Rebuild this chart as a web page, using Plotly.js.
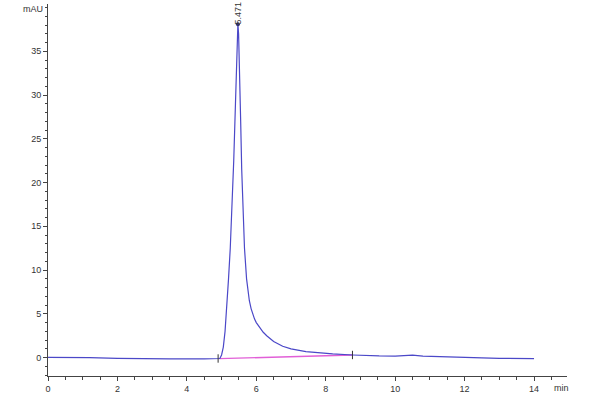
<!DOCTYPE html>
<html>
<head>
<meta charset="utf-8">
<script src="https://cdn.plot.ly/plotly-3.0.1.min.js"></script>
<style>
  html, body { margin: 0; padding: 0; background: #fff; }
  #chart { width: 600px; height: 400px; }
</style>
</head>
<body>
<div id="chart"></div>
<script>
// retention time (min) and detector signal (mAU)
var timeMin = [0, 0.5, 1.2, 2.0, 2.6, 3.5, 4.5, 4.85, 4.9, 4.95, 5.0, 5.05, 5.1, 5.15,
  5.2, 5.25, 5.3, 5.35, 5.4, 5.43, 5.46, 5.47, 5.49, 5.52, 5.55, 5.58, 5.62, 5.66,
  5.72, 5.76, 5.8, 5.85, 5.9, 5.95, 6.0, 6.1, 6.2, 6.3, 6.5, 6.76, 7.0, 7.43, 7.8,
  8.2, 8.77, 9.2, 9.54, 10.0, 10.5, 10.8, 11.3, 11.94, 12.5, 13.0, 13.5, 14.0];
var signalMAU = [0.02, 0.02, 0.0, -0.08, -0.14, -0.15, -0.15, -0.15, -0.1, -0.1, 0.3, 1.2, 3.0, 5.5,
  9.0, 12.5, 17.0, 22.5, 29.0, 33.0, 37.5, 38.1, 37.0, 33.0, 27.0, 21.5, 16.0, 12.5,
  9.0, 7.6, 6.5, 5.6, 4.9, 4.4, 4.0, 3.4, 2.9, 2.5, 1.85, 1.3, 1.0, 0.69, 0.52,
  0.42, 0.3, 0.22, 0.2, 0.18, 0.28, 0.18, 0.1, 0.05, -0.02, -0.08, -0.1, -0.12];

// integration baseline under the peak
var baseTime = [4.93, 8.77];
var baseSignal = [-0.12, 0.3];

// integration start / end markers and apex
var markTime = [4.9, 8.77];
var markSignal = [-0.1, 0.3];
var peakTime = 5.471;
var peakHeight = 38.1;
var peakLabel = '5.471';

var xTicks = [0, 2, 4, 6, 8, 10, 12, 14];
var yTicks = [0, 5, 10, 15, 20, 25, 30, 35];

var axisColor = '#444';
var labelFont = { family: 'Liberation Sans, Arial, sans-serif', size: 9, color: '#333' };

var traces = [
  {
    x: baseTime,
    y: baseSignal,
    mode: 'lines',
    type: 'scatter',
    line: { color: 'rgb(225,95,215)', width: 1.4 },
    hoverinfo: 'skip',
  },
  {
    x: timeMin,
    y: signalMAU,
    mode: 'lines',
    type: 'scatter',
    line: { color: 'rgb(75,72,200)', width: 1.2 },
  },
  {
    x: markTime,
    y: markSignal,
    mode: 'markers',
    type: 'scatter',
    marker: { symbol: 'line-ns-open', size: 6, color: '#333', line: { width: 1, color: '#333' } },
    hoverinfo: 'skip',
  },
  {
    x: [peakTime],
    y: [peakHeight],
    mode: 'markers',
    type: 'scatter',
    marker: { size: 4, color: '#33336a' },
    hoverinfo: 'skip',
  },
];

var axisBase = {
  showline: true,
  linecolor: axisColor,
  linewidth: 1,
  ticks: 'outside',
  ticklen: 4,
  tickwidth: 1,
  tickcolor: axisColor,
  showgrid: false,
  zeroline: false,
  tickfont: labelFont,
  tickmode: 'array',
};

var layout = {
  xaxis: Object.assign({}, axisBase, {
    range: [0, 14.95],
    tickvals: xTicks,
    ticktext: xTicks.map(String),
    minor: { dtick: 0.5, tick0: 0, ticks: 'outside', ticklen: 2.5, tickcolor: axisColor },
  }),
  yaxis: Object.assign({}, axisBase, {
    range: [-2.1, 40.4],
    tickvals: yTicks,
    ticktext: yTicks.map(String),
    minor: { dtick: 1, tick0: 0, ticks: 'outside', ticklen: 2.5, tickcolor: axisColor },
  }),
  annotations: [
    {
      text: peakLabel,
      x: peakTime,
      y: peakHeight,
      xref: 'x',
      yref: 'y',
      textangle: -90,
      showarrow: false,
      yanchor: 'bottom',
      xanchor: 'center',
      yshift: -2,
      font: { family: labelFont.family, size: 9, color: '#333' },
    },
    {
      text: 'mAU',
      x: 0,
      y: 39.8,
      xref: 'paper',
      yref: 'y',
      xanchor: 'right',
      xshift: -3,
      showarrow: false,
      font: labelFont,
    },
    {
      text: 'min',
      x: 14.8,
      y: 0,
      xref: 'x',
      yref: 'paper',
      yanchor: 'top',
      yshift: -5,
      showarrow: false,
      font: labelFont,
    },
  ],
  showlegend: false,
  plot_bgcolor: '#fff',
  paper_bgcolor: '#fff',
  margin: { t: 4, r: 33, b: 24, l: 48 },
  width: 600,
  height: 400,
  hovermode: 'closest',
};

Plotly.newPlot('chart', traces, layout, { displayModeBar: false, staticPlot: true });
</script>
</body>
</html>
